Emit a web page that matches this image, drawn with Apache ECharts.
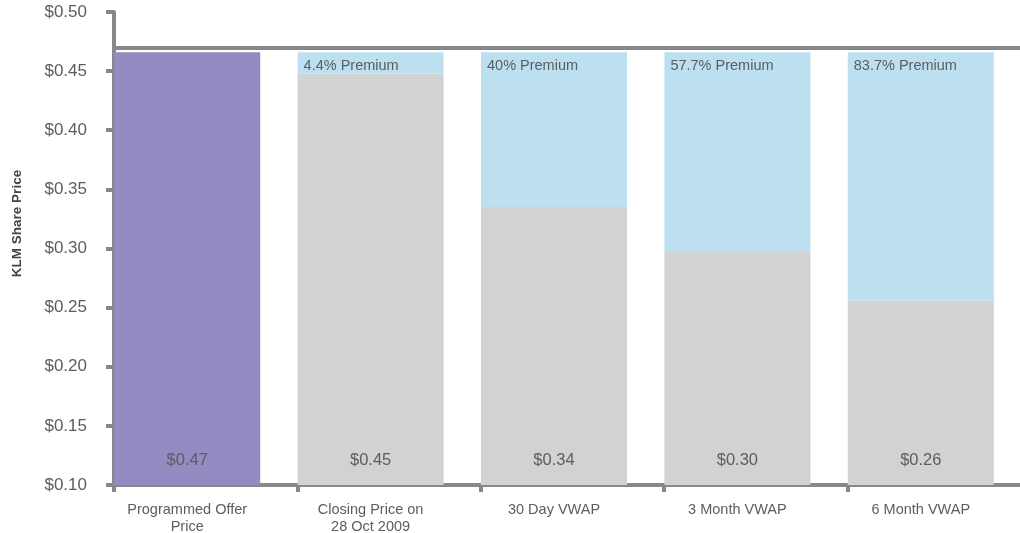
<!DOCTYPE html>
<html>
<head>
<meta charset="utf-8">
<script src="https://cdn.jsdelivr.net/npm/echarts@6/dist/echarts.min.js"></script>
<style>
  html, body { margin: 0; padding: 0; background: #fff; }
  #chart { width: 1020px; height: 533px; }
</style>
</head>
<body>
<div id="chart"></div>
<script>
// categories and values
var categories = ['Programmed Offer\nPrice', 'Closing Price on\n28 Oct 2009', '30 Day VWAP', '3 Month VWAP', '6 Month VWAP'];
var offerPrice = 0.466;
var offerLine = 0.468;
var offerData = [offerPrice, null, null, null, null];
var priceData = [null, 0.448, 0.335, 0.297, 0.256];
var valueLabels = ['$0.47', '$0.45', '$0.34', '$0.30', '$0.26'];
var premiumLabels = ['', '4.4% Premium', '40% Premium', '57.7% Premium', '83.7% Premium'];
var yTicks = { min: 0.10, max: 0.50, step: 0.05 };

// premium part = offer price minus the comparison price
var premiumData = priceData.map(function (v) {
    return v == null ? null : +(offerPrice - v).toFixed(3);
});

var AXIS = '#88888b';
var TEXT = '#5c5d5f';
var FONT = "'Liberation Sans', Arial, sans-serif";

var valueLabel = {
    show: true,
    position: 'insideBottom',
    distance: 16,
    color: TEXT,
    fontSize: 16.5,
    fontFamily: FONT,
    formatter: function (p) { return valueLabels[p.dataIndex]; }
};

var option = {
    animation: false,
    grid: { left: 114, top: 12, width: 917, bottom: 48, containLabel: false, outerBoundsMode: 'none' },
    xAxis: {
        type: 'category',
        data: categories,
        axisLine: { lineStyle: { color: AXIS, width: 4 } },
        axisTick: { show: true, length: 7, lineStyle: { color: AXIS, width: 4 } },
        // labels sit under the bars, which are left of the band centre
        axisLabel: { color: TEXT, fontSize: 14.5, fontFamily: FONT, margin: 16, lineHeight: 17, interval: 0, padding: [0, 37, 0, 0] },
        splitLine: { show: false }
    },
    yAxis: {
        type: 'value',
        min: yTicks.min,
        max: yTicks.max,
        interval: yTicks.step,
        name: 'KLM Share Price',
        nameLocation: 'middle',
        nameGap: 90,
        nameRotate: 90,
        nameTextStyle: { color: '#444', fontSize: 13.5, fontWeight: 'bold', fontFamily: FONT, padding: [0, 0, 0, 50] },
        axisLine: { show: true, lineStyle: { color: AXIS, width: 4 } },
        axisTick: { show: true, length: 8, lineStyle: { color: AXIS, width: 4 } },
        axisLabel: {
            color: TEXT, fontSize: 17, fontFamily: FONT, margin: 27,
            formatter: function (v) { return '$' + v.toFixed(2); }
        },
        splitLine: { show: false }
    },
    series: [
        {
            name: 'Offer',
            type: 'bar',
            stack: 'a',
            barWidth: 146,
            barGap: 0,
            data: offerData,
            itemStyle: { color: '#958bc3' },
            label: valueLabel,
            markLine: {
                silent: true,
                symbol: 'none',
                label: { show: false },
                lineStyle: { color: AXIS, width: 4, type: 'solid' },
                data: [{ yAxis: offerLine }]
            },
            z: 2
        },
        {
            name: 'Price',
            type: 'bar',
            stack: 'a',
            barWidth: 146,
            data: priceData,
            itemStyle: { color: '#d1d2d4' },
            label: valueLabel
        },
        {
            name: 'Premium',
            type: 'bar',
            stack: 'a',
            barWidth: 146,
            data: premiumData,
            itemStyle: { color: '#bce0f0' },
            label: {
                show: true,
                position: 'insideTopLeft',
                distance: 6,
                color: TEXT,
                fontSize: 14.5,
                fontFamily: FONT,
                formatter: function (p) { return premiumLabels[p.dataIndex]; }
            }
        },
        {
            // empty spacer so the bars sit at the left of each band
            name: 'spacer',
            type: 'bar',
            stack: 'b',
            barWidth: 37,
            data: [null, null, null, null, null],
            silent: true
        }
    ]
};

var myChart = echarts.init(document.getElementById('chart'));
myChart.setOption(option, true);
</script>
</body>
</html>
